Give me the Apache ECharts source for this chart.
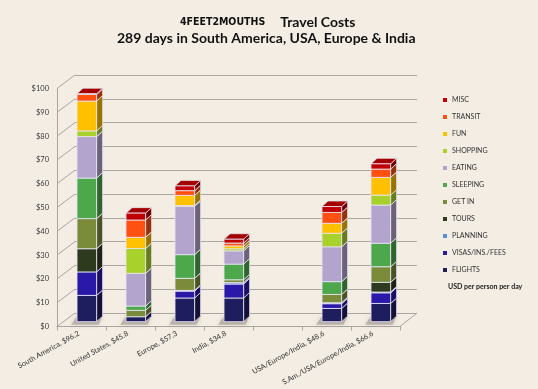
<!DOCTYPE html>
<html><head><meta charset="utf-8">
<script src="https://cdn.jsdelivr.net/npm/echarts@6/dist/echarts.min.js"></script>
<style>html,body{margin:0;padding:0;background:#F3EDE4;}#c{width:538px;height:389px;}</style>
</head><body><div id="c"></div>
<script>
// ---- data ----
const categories = ['South America, $96.2', 'United States, $45.8', 'Europe, $57.3', 'India, $34.8', '', 'USA/Europe/India, $48.6', 'S.Am./USA/Europe/India, $66.6'];
const yTicks = [0, 10, 20, 30, 40, 50, 60, 70, 80, 90, 100];
const flights  = [11.1, 2.1, 10.0, 10.0, null, 5.6, 7.7];
const visas    = [9.9, 0, 2.9, 5.9, null, 2.0, 4.5];
const planning = [0, 0, 0.3, 0.6, null, 0.4, 0.3];
const tours    = [9.8, 0, 0, 0, null, 0, 4.1];
const getIn    = [12.7, 2.7, 5.1, 1.2, null, 3.5, 6.6];
const sleeping = [17.1, 1.8, 10.0, 6.6, null, 5.4, 9.9];
const eating   = [17.5, 13.8, 20.4, 5.6, null, 14.7, 16.1];
const shopping = [2.4, 10.5, 0.3, 0.9, null, 5.7, 4.2];
const fun      = [12.6, 4.7, 4.3, 1.2, null, 4.2, 7.5];
const transit  = [2.8, 7.3, 2.0, 1.2, null, 4.6, 3.5];
const misc     = [0.3, 2.9, 2.0, 1.6, null, 2.5, 2.2];

const seriesDefs = [
  {name: 'FLIGHTS', data: flights, color: '#1E1E5E'},
  {name: 'VISAS/INS./FEES', data: visas, color: '#2A18A8'},
  {name: 'PLANNING', data: planning, color: '#5B8ED8'},
  {name: 'TOURS', data: tours, color: '#2E3A1E'},
  {name: 'GET IN', data: getIn, color: '#7A8C3A'},
  {name: 'SLEEPING', data: sleeping, color: '#4CA84A'},
  {name: 'EATING', data: eating, color: '#B2A4CC'},
  {name: 'SHOPPING', data: shopping, color: '#A9D12B'},
  {name: 'FUN', data: fun, color: '#FFC000'},
  {name: 'TRANSIT', data: transit, color: '#FF5012'},
  {name: 'MISC', data: misc, color: '#C00000'}
];

const FONT = 'Lato, "Open Sans", sans-serif';
const DX = 6, DY = 5.5;      // bar depth
const WDX = 18, WDY = 13.5;  // wall depth

function shade(hex, f) {
  const n = parseInt(hex.slice(1), 16);
  const r = Math.round(((n >> 16) & 255) * f), g = Math.round(((n >> 8) & 255) * f), b = Math.round((n & 255) * f);
  return 'rgb(' + Math.min(255, r) + ',' + Math.min(255, g) + ',' + Math.min(255, b) + ')';
}

function makeRender(color, si) {
  const side = shade(color, 0.6), top = shade(color, 0.85);
  const edge = 'rgba(232,228,242,0.95)';
  return function (params, api) {
    const cat = api.value(0), lo = api.value(1), hi = api.value(2);
    if (!(hi > lo)) return;
    const pLo = api.coord([cat, lo]), pHi = api.coord([cat, hi]);
    const bw = api.size([1, 0])[0] * 0.4;
    const x0 = pLo[0] - bw / 2, x1 = pLo[0] + bw / 2;
    const yb = pLo[1], yt = pHi[1];
    const children = [];
    if (lo === 0) {
      children.push({type: 'polygon', z2: 0,
        shape: {points: [[x0 - 6, yb + 3], [x1 + 2, yb + 3], [x1 + DX, yb - DY], [x0, yb - DY]]},
        style: {fill: 'rgba(90,80,70,0.3)', shadowBlur: 5, shadowColor: 'rgba(90,80,70,0.6)'}});
    }
    children.push({type: 'polygon', z2: si * 3 + 1,
      shape: {points: [[x1, yb], [x1 + DX, yb - DY], [x1 + DX, yt - DY], [x1, yt]]},
      style: {fill: side, stroke: edge, lineWidth: 0.8}});
    children.push({type: 'polygon', z2: si * 3 + 2,
      shape: {points: [[x0, yt], [x1, yt], [x1 + DX, yt - DY], [x0 + DX, yt - DY]]},
      style: {fill: top, stroke: edge, lineWidth: 0.8}});
    children.push({type: 'rect', z2: si * 3 + 3,
      shape: {x: x0, y: yt, width: bw, height: yb - yt},
      style: {fill: color, stroke: edge, lineWidth: 0.9}});
    return {type: 'group', children: children};
  };
}

const base = categories.map(() => 0);
const series = [];
// wall diagonals + floor edge
series.push({
  type: 'custom', name: 'walls', xAxisIndex: 0, yAxisIndex: 0, z: 1, silent: true,
  data: yTicks.map(v => [0, v]),
  renderItem: function (params, api) {
    const cs = params.coordSys;
    const y = api.coord([0, api.value(1)])[1];
    const st = {stroke: '#a9a5a0', lineWidth: 1};
    const ch = [{type: 'line', shape: {x1: cs.x, y1: y, x2: cs.x + WDX, y2: y - WDY}, style: st}];
    if (api.value(1) === 0) {
      ch.push({type: 'line', shape: {x1: cs.x + cs.width, y1: y, x2: cs.x + cs.width + WDX - 1, y2: y - WDY}, style: st});
    }
    return {type: 'group', children: ch};
  }
});
seriesDefs.forEach((d, si) => {
  const rows = d.data.map((v, i) => {
    const lo = base[i];
    const hi = lo + (v || 0);
    base[i] = hi;
    return [i, lo, hi];
  });
  series.push({
    type: 'custom', name: d.name, xAxisIndex: 2, yAxisIndex: 2, z: 5,
    itemStyle: {color: d.color},
    encode: {x: 0, y: [1, 2]},
    renderItem: makeRender(d.color, si),
    data: rows
  });
});

const chart = echarts.init(document.getElementById('c'));
chart.setOption({
  backgroundColor: '#F3EDE4',
  animation: false,
  title: [
    {text: '{a|4FEET2MOUTHS}   {b|Travel Costs}', left: 175, top: 8,
     textStyle: {rich: {
       a: {fontFamily: '"Liberation Sans Narrow", "DejaVu Sans Condensed", sans-serif', fontWeight: 'bold', fontSize: 10.5, color: '#111'},
       b: {fontFamily: FONT, fontWeight: 'bold', fontSize: 14, color: '#111'}}}},
    {text: '289 days in South America, USA, Europe & India', left: 112, top: 26,
     textStyle: {fontFamily: FONT, fontWeight: 'bold', fontSize: 14, color: '#111'}},
    {text: 'USD per person per day', left: 443, top: 278,
     textStyle: {fontFamily: FONT, fontWeight: 'bold', fontSize: 7, color: '#222'}}
  ],
  legend: {
    orient: 'vertical', left: 438, top: 91, itemWidth: 4, itemHeight: 4, itemGap: 9,
    selectedMode: false,
    textStyle: {fontFamily: FONT, fontSize: 7, lineHeight: 8, color: '#333'},
    data: seriesDefs.slice().reverse().map(d => ({name: d.name, icon: 'rect'}))
  },
  grid: [
    {left: 57, top: 88.5, width: 343, height: 238},
    {left: 75, top: 75, width: 342, height: 238},
    {left: 62.3, top: 84.7, width: 343, height: 237}
  ],
  xAxis: [
    {type: 'category', gridIndex: 0, data: categories,
     axisLine: {lineStyle: {color: '#a9a5a0'}},
     axisTick: {show: true, length: 4, lineStyle: {color: '#a9a5a0'}},
     axisLabel: {interval: 0, rotate: 29, margin: 5, fontFamily: FONT, fontSize: 7, color: '#333',
       formatter: v => v ? '{a|' + v + '}' : '', rich: {a: {padding: [0, 3, 0, 0], fontFamily: FONT, fontSize: 7.3, color: '#333'}}}},
    {type: 'category', gridIndex: 1, data: categories, show: false},
    {type: 'category', gridIndex: 2, data: categories, show: false}
  ],
  yAxis: [
    {type: 'value', gridIndex: 0, min: 0, max: 100, interval: 10,
     axisLine: {show: true, lineStyle: {color: '#a9a5a0'}}, axisTick: {show: false},
     splitLine: {show: false},
     axisLabel: {formatter: v => '$' + v, margin: 8, fontFamily: FONT, fontSize: 7.5, color: '#3a3a3a'}},
    {type: 'value', gridIndex: 1, min: 0, max: 100, interval: 10,
     axisLine: {show: false}, axisTick: {show: false}, axisLabel: {show: false},
     splitLine: {show: true, lineStyle: {color: '#a9a5a0', width: 1}}},
    {type: 'value', gridIndex: 2, min: 0, max: 100, interval: 10, show: false, splitLine: {show: false}}
  ],
  series: series
});
</script>
</body></html>
